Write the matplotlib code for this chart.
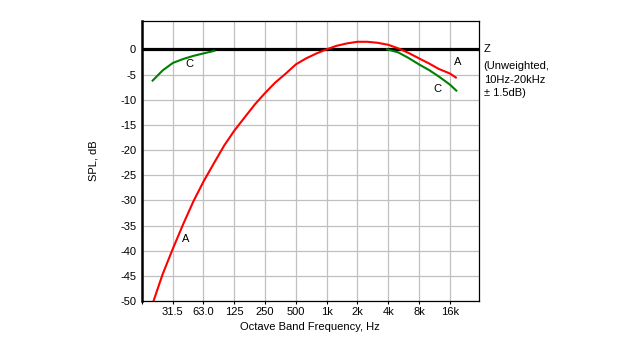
import numpy as np
import matplotlib
matplotlib.use('Agg')
import matplotlib.pyplot as plt
from matplotlib.ticker import FixedLocator, FixedFormatter, NullLocator
import matplotlib.transforms as mtransforms

plt.rcParams['font.family'] = ['Liberation Sans', 'DejaVu Sans']
plt.rcParams['font.size'] = 8

# A weighting, Hz / dB
freq_a = [20, 25, 31.5, 40, 50, 63, 80, 100, 125, 160, 200, 250, 315, 400,
          500, 630, 800, 1000, 1250, 1600, 2000, 2500, 3150, 4000, 5000,
          6300, 8000, 10000, 12500, 16000, 18300]
db_a = [-50.5, -44.7, -39.6, -34.6, -30.2, -26.2, -22.5, -19.1, -16.2, -13.4,
        -10.9, -8.7, -6.6, -4.8, -3.0, -1.8, -0.8, 0.0, 0.7, 1.2, 1.5, 1.5,
        1.3, 0.9, 0.2, -0.7, -1.8, -2.8, -3.9, -4.8, -5.6]

# C weighting, low and high ends (flat in between)
freq_c_lo = [20, 25, 31.5, 40, 50, 63, 80]
db_c_lo = [-6.2, -4.2, -2.7, -1.9, -1.3, -0.8, -0.3]
freq_c_hi = [3900, 5000, 6300, 8000, 10000, 12500, 16000, 18500]
db_c_hi = [0.0, -0.6, -1.7, -3.0, -4.1, -5.4, -7.0, -8.2]

band_pos = [31.25, 62.5, 125, 250, 500, 1000, 2000, 4000, 8000, 16000]
band_labels = ['31.5', '63.0', '125', '250', '500', '1k', '2k', '4k', '8k', '16k']
db_ticks = [0, -5, -10, -15, -20, -25, -30, -35, -40, -45, -50]

fig = plt.figure(figsize=(6.4, 3.5), dpi=100)
ax = fig.add_axes([0.2214, 0.14, 0.527, 0.801])

ax.set_xscale('log', base=2)
ax.set_xlim(1000 * 2 ** -6, 1000 * 2 ** 4.945)
ax.set_ylim(-50, 5.7)

ax.xaxis.set_major_locator(FixedLocator([1000 * 2 ** -6] + band_pos))
ax.xaxis.set_major_formatter(FixedFormatter([''] + band_labels))
ax.xaxis.set_minor_locator(NullLocator())
ax.set_yticks(db_ticks)
ax.set_yticklabels([str(v) for v in db_ticks])

ax.grid(True, color='#c0c0c0', linewidth=0.9)
ax.set_axisbelow(True)
ax.tick_params(axis='x', length=2, width=0.8, pad=2, colors='black')
ax.tick_params(axis='y', length=0, pad=4)

for side in ['top', 'right', 'bottom']:
    ax.spines[side].set_linewidth(0.9)
ax.spines['left'].set_linewidth(1.8)

# Z (flat) line
ax.axhline(0, color='black', linewidth=2.3, zorder=3)

ax.plot(freq_a, db_a, color='#ff0000', linewidth=1.5, zorder=4, clip_on=True)
ax.plot(freq_c_lo, db_c_lo, color='#008000', linewidth=1.5, zorder=4)
ax.plot(freq_c_hi, db_c_hi, color='#008000', linewidth=1.5, zorder=4)

ax.text(42, -37.7, 'A', ha='center', va='center')
ax.text(46, -3.0, 'C', ha='center', va='center')
ax.text(19100, -2.5, 'A', ha='center', va='center')
ax.text(12200, -7.8, 'C', ha='center', va='center')

trans = mtransforms.blended_transform_factory(ax.transAxes, ax.transData)
ax.text(1.014, 0, 'Z', transform=trans, ha='left', va='center', clip_on=False)
ax.text(1.014, -2.4, '(Unweighted,\n10Hz-20kHz\n\u00b1 1.5dB)', transform=trans,
        ha='left', va='top', linespacing=1.4, clip_on=False)

fig.text(310 / 640, 1 - 327.5 / 350, 'Octave Band Frequency, Hz',
         ha='center', va='center')
fig.text(93 / 640, 1 - 161 / 350, 'SPL, dB', rotation=90,
         ha='center', va='center')

fig.savefig('out.png', dpi=100)
